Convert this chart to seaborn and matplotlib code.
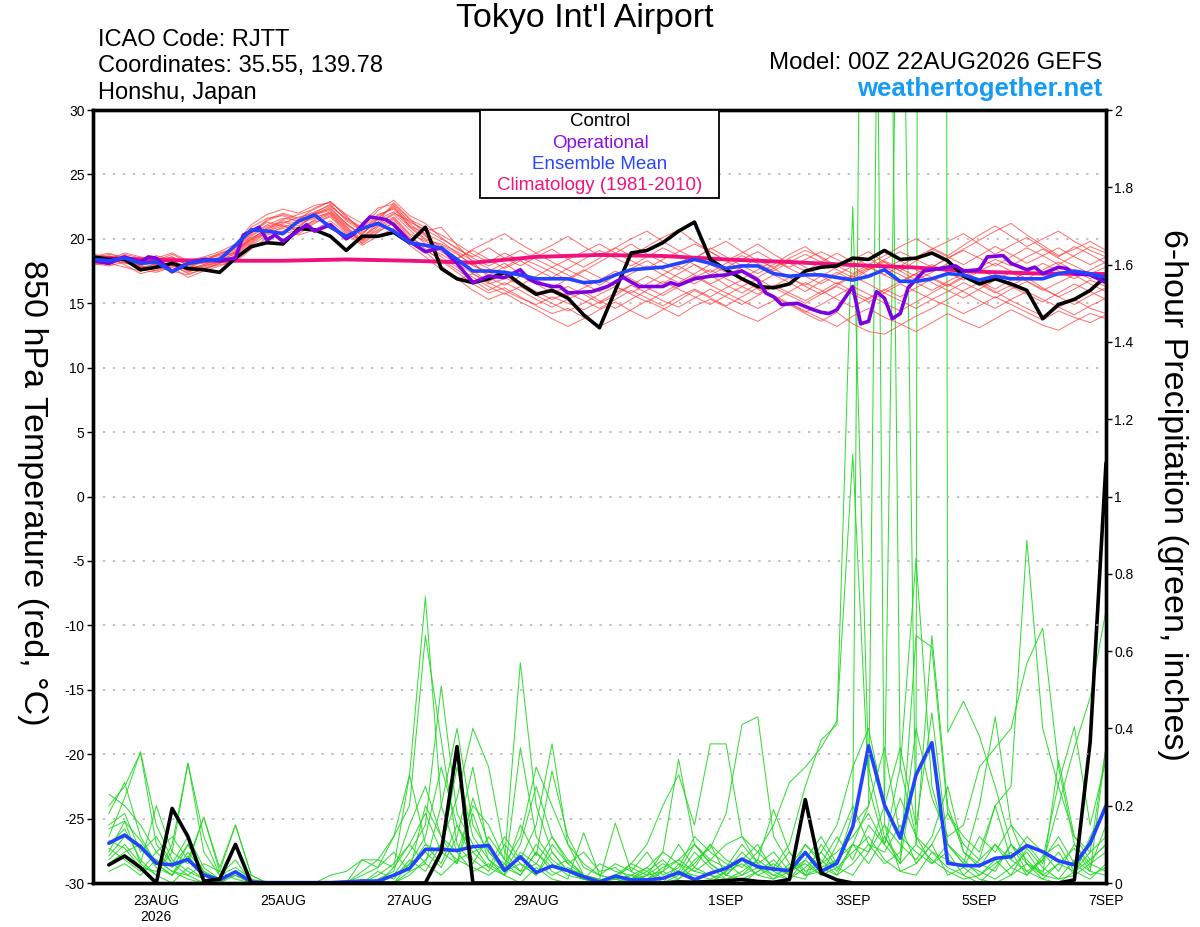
import matplotlib
matplotlib.use("Agg")
import matplotlib.pyplot as plt
from matplotlib.patches import Rectangle
import seaborn as sns
import pandas as pd
import numpy as np

# ---------------- data ----------------
hours6 = list(range(0, 385, 6))          # 22AUG 00Z .. 7SEP 00Z, 6-hourly
precip_hours = list(range(6, 385, 6))    # 6-hour totals, first valid 22AUG 06Z

tick_hours = [24, 72, 120, 168, 240, 288, 336, 384]
tick_labels = ["23AUG\n2026", "25AUG", "27AUG", "29AUG", "1SEP", "3SEP", "5SEP", "7SEP"]

control_temp = [18.6,18.4,18.4,17.6,17.8,18.1,17.7,17.6,17.4,18.5,
                19.4,19.7,19.6,20.8,20.7,20.2,19.1,20.2,20.2,20.5,
                19.7,20.9,17.7,16.9,16.6,16.9,17.4,16.5,15.7,16.0,
                15.4,14.1,13.1,16.0,18.9,19.1,19.7,20.6,21.3,18.4,
                17.6,16.9,16.3,16.2,16.5,17.5,17.8,17.9,18.5,18.4,
                19.1,18.4,18.5,18.9,18.3,17.1,16.5,16.9,16.5,16.0,
                13.8,14.9,15.3,16.0,17.1]

mean_temp = [18.4,18.3,18.5,18.1,18.2,17.45,18.1,18.3,18.4,19.5,
             20.7,20.6,20.4,21.4,21.85,20.9,20.2,20.8,21.2,20.6,
             19.7,19.5,19.3,18.4,17.5,17.5,17.4,17.2,16.9,16.9,
             16.9,16.6,16.7,17.2,17.6,17.7,17.8,18.1,18.4,18.1,
             17.7,17.9,17.9,17.3,17.1,17.2,17.2,17.0,16.8,17.1,
             17.6,16.7,16.7,16.9,17.3,17.2,16.8,17.1,16.9,16.9,
             16.9,17.3,17.5,17.3,17.0]

oper_hours = [0,6,12,18,21,24,30,36,42,48,54,57,63,66,69,72,81,84,90,96,99,105,111,114,
              120,126,132,138,144,150,156,162,165,168,174,177,180,189,195,201,207,216,219,
              222,228,234,240,246,252,255,258,261,267,273,276,279,282,288,291,294,297,300,
              303,306,309,315,321,327,330,336,339,345,348,354,357,360,366,369,372,378,384]
oper_temp = [18.3,18.1,18.6,18.2,18.6,18.5,17.45,18.1,18.4,18.3,18.5,20.3,20.9,19.9,20.3,19.8,
             21.1,20.6,21.1,20.0,20.4,21.7,21.5,21.1,
             19.8,19.0,19.3,18.1,16.6,17.1,17.0,17.6,16.9,16.6,16.3,16.3,15.8,15.9,16.3,17.0,
             16.3,16.3,16.6,16.4,16.9,17.1,17.2,17.5,16.8,15.8,15.5,14.9,15.0,14.5,14.3,14.2,
             14.5,16.3,13.4,13.6,15.9,15.4,13.8,14.2,16.2,17.5,17.7,17.9,17.5,17.6,18.6,18.7,
             18.1,17.6,17.8,17.3,17.8,17.7,17.3,17.2,16.6]

clim_hours = list(range(0, 385, 24))
clim_temp = [18.55,18.36,18.3,18.3,18.4,18.3,18.15,18.6,18.75,18.67,18.4,18.2,17.97,17.77,
             17.45,17.3,17.27]

# ensemble member 850 hPa temperatures (6-hourly)
temp_members = [
 [18.4,18.6,18.3,18.0,18.2,18.6,17.9,18.2,18.5,19.0, 20.2,21.0,21.3,21.0,21.8,22.4,21.2,20.3,21.6,22.5,
  21.0,20.0,19.5,18.8,18.0,17.2,17.8,18.5,18.0,17.4, 16.8,17.5,18.2,18.9,19.6,18.8,18.2,17.6,18.4,19.3,
  18.6,17.9,17.3,18.0,18.8,19.4,18.5,17.8,18.4,19.0, 18.2,17.5,18.3,19.2,19.8,20.4,19.6,18.8,19.5,20.1,
  19.3,18.6,19.4,18.8,18.1],
 [18.2,18.0,18.5,17.6,17.4,17.8,17.0,17.5,17.9,18.3, 19.6,20.5,20.8,20.4,21.2,21.8,20.6,19.8,20.9,21.6,
  20.3,19.2,18.3,17.4,16.5,15.8,16.2,15.5,14.8,14.2, 14.6,13.9,13.2,13.8,14.5,15.2,14.6,14.0,14.8,15.3,
  14.7,14.1,13.6,14.3,15.0,14.4,13.8,13.2,14.0,14.6, 13.9,13.4,12.8,13.5,14.2,13.6,13.1,13.8,14.5,13.9,
  13.3,12.9,13.6,14.2,13.8],
 [18.6,18.9,18.4,18.2,18.7,18.3,17.6,18.0,18.4,18.8, 20.0,20.8,21.5,21.9,22.3,22.9,21.8,20.5,21.2,22.0,
  21.4,20.6,20.9,19.5,18.2,17.0,16.4,17.1,16.5,15.8, 16.3,15.7,15.0,15.6,16.4,17.1,16.5,17.3,18.0,17.2,
  16.4,15.8,16.5,17.2,16.6,15.9,16.7,17.4,16.8,17.6, 18.2,17.5,16.8,17.4,18.1,17.3,16.5,15.8,16.4,17.0,
  16.2,15.5,16.1,16.8,16.3],
 [18.0,18.3,18.6,18.4,17.9,18.1,17.7,18.3,18.9,19.3, 20.5,21.3,21.0,20.6,21.5,22.0,20.9,20.0,21.3,22.8,
  21.6,20.3,19.0,18.4,19.2,19.8,20.4,19.6,18.9,19.5, 20.2,19.4,18.7,19.3,20.0,20.6,19.8,19.1,18.5,19.2,
  19.8,19.0,18.3,17.8,18.5,19.1,18.6,17.9,17.3,18.0, 18.7,19.4,20.0,19.3,18.7,19.5,20.3,21.0,20.2,19.4,
  20.0,20.6,19.8,19.1,18.6],
 [18.3,18.5,18.0,17.3,17.6,18.0,17.3,17.6,18.1,18.6, 19.8,20.7,21.4,21.2,21.6,22.1,21.0,19.6,20.5,21.3,
  20.0,19.0,17.9,16.9,16.0,15.3,15.8,15.1,14.5,13.8, 13.2,13.8,14.5,15.1,14.4,13.8,14.5,15.2,16.0,15.4,
  14.8,15.5,16.2,15.6,15.0,14.3,14.9,15.6,16.3,15.7, 15.0,14.4,15.1,15.8,16.5,15.9,15.2,14.6,15.3,15.9,
  15.3,14.7,14.1,14.8,15.4],
 [18.5,18.2,18.8,18.5,18.3,18.8,18.2,18.4,18.7,19.1, 20.4,21.5,22.0,21.6,22.1,22.6,21.5,20.8,21.9,22.3,
  21.0,20.4,19.8,18.9,17.9,17.5,18.1,17.3,16.8,16.2, 16.9,17.6,17.0,16.3,15.8,16.5,17.2,17.9,17.2,16.5,
  17.1,17.8,18.5,17.7,17.0,16.4,17.1,17.8,18.6,17.9, 17.2,16.6,17.3,18.0,17.4,16.8,17.5,18.1,17.5,16.9,
  17.6,18.2,17.5,16.9,17.4],
 [18.1,17.9,18.2,17.8,18.0,18.4,17.5,17.8,18.2,18.5, 19.5,20.3,20.6,20.9,21.9,22.5,21.6,20.9,22.2,23.0,
  21.8,21.2,20.1,19.2,18.6,19.3,18.5,17.9,18.6,19.2, 18.4,17.8,18.5,19.3,18.7,19.4,20.1,20.7,19.8,19.0,
  18.3,18.9,19.6,18.8,18.1,17.5,18.2,18.9,18.2,17.6, 18.3,17.7,17.1,17.8,18.5,19.2,19.9,20.6,21.2,20.3,
  19.5,18.7,19.2,19.8,19.1],
 [18.4,18.7,18.2,17.7,18.1,18.3,17.8,17.9,18.3,18.9, 20.1,20.6,21.2,21.7,22.0,22.3,21.2,20.2,21.0,21.7,
  20.4,19.8,19.2,18.3,17.5,16.7,17.3,16.6,15.9,15.3, 15.8,15.2,14.6,15.3,16.0,15.4,14.8,15.5,16.1,15.5,
  16.2,16.8,16.1,15.5,14.9,14.2,13.6,14.3,13.4,12.8, 12.6,13.3,14.0,14.6,15.3,16.0,16.6,15.9,15.2,14.6,
  14.0,14.7,15.3,14.6,14.2],
 [18.7,18.4,18.9,18.6,18.4,18.2,17.7,18.5,18.8,19.4, 20.9,21.6,21.8,21.3,21.9,22.2,21.1,20.4,21.5,22.1,
  20.9,19.9,19.6,19.0,18.3,17.7,17.0,16.4,17.1,17.8, 17.2,16.5,15.9,16.6,17.3,17.9,17.2,16.6,17.3,18.0,
  17.4,16.9,17.6,18.3,17.8,18.4,19.0,18.4,17.8,17.1, 17.7,18.3,17.6,17.0,16.4,17.1,17.8,18.4,17.9,18.6,
  19.2,18.5,17.9,17.3,17.8],
 [18.0,18.1,17.8,17.5,17.8,17.5,17.2,17.7,18.0,18.2, 19.2,20.1,20.6,20.3,20.7,21.4,20.4,19.5,20.2,20.8,
  19.5,18.6,17.6,16.8,17.3,16.6,16.0,15.4,14.9,15.5, 15.0,14.5,15.1,15.8,16.4,15.8,15.2,14.7,15.4,16.1,
  15.5,14.9,15.6,16.3,17.0,16.3,15.7,16.4,17.1,16.5, 15.8,15.2,14.6,15.3,14.8,14.2,14.8,15.5,14.9,14.3,
  13.7,14.4,13.9,13.5,14.1],
 [18.8,18.6,18.5,18.1,18.5,18.9,18.3,18.6,19.0,19.6, 21.1,21.9,22.3,22.0,22.6,22.8,21.9,21.2,22.4,22.7,
  21.5,20.9,20.3,19.6,18.8,18.2,18.9,18.3,17.6,17.0, 17.7,18.4,19.1,18.5,17.9,18.6,19.3,18.7,18.0,17.4,
  18.1,18.7,18.1,17.5,18.2,18.8,18.2,17.6,17.0,17.7, 18.4,19.0,18.4,17.8,18.5,19.1,18.5,17.9,18.6,19.3,
  18.7,18.0,18.7,19.4,18.9],
 [18.3,18.0,18.4,17.9,17.5,17.9,17.4,17.9,18.2,18.7, 19.9,20.9,21.1,20.8,21.4,21.9,20.7,19.9,20.7,21.5,
  20.1,19.4,18.8,18.1,17.3,16.5,16.9,17.5,16.8,16.1, 15.6,16.2,16.8,17.5,16.9,16.2,15.6,16.3,17.0,17.6,
  16.9,16.3,15.7,16.4,15.8,15.2,15.9,16.6,15.9,15.3, 16.0,16.7,17.3,16.6,16.0,15.4,16.1,16.8,17.4,16.7,
  16.0,16.6,17.2,16.5,15.9],
 [18.5,18.8,18.6,18.3,18.0,18.5,18.0,18.1,18.6,18.9, 20.3,21.1,21.6,21.4,22.0,22.7,21.4,20.6,21.8,22.4,
  21.2,20.2,19.3,18.5,19.1,18.4,17.7,18.3,18.9,18.2, 17.6,17.0,16.4,17.1,17.7,18.3,17.6,17.0,16.5,17.2,
  17.8,18.4,19.0,18.3,17.7,17.1,16.5,17.2,17.9,18.5, 17.8,17.2,16.6,16.0,16.7,17.3,16.7,16.1,16.8,17.4,
  18.1,17.5,16.9,17.6,18.2],
 [18.2,18.4,18.1,17.9,18.3,17.9,17.6,18.0,18.5,19.0, 20.0,20.4,20.9,21.3,21.7,22.0,20.8,19.9,21.1,21.9,
  20.7,19.6,18.6,17.8,17.0,16.3,15.7,16.3,15.6,15.0, 14.4,15.0,15.7,16.3,15.7,15.1,15.8,16.5,17.1,16.4,
  15.8,15.2,14.6,15.2,15.9,16.6,16.0,15.3,14.7,15.4, 16.1,15.5,16.2,16.9,16.3,17.0,17.6,17.0,16.3,15.7,
  15.1,15.8,16.5,15.9,15.3],
 [18.6,18.3,18.7,18.0,18.4,18.6,18.0,18.3,18.8,19.2, 20.6,21.4,21.9,21.5,22.4,22.9,21.7,20.7,21.6,22.6,
  21.3,20.7,20.0,19.3,18.5,17.9,18.5,19.1,18.4,17.8, 18.4,19.0,19.6,18.9,18.3,17.7,18.4,19.0,19.6,19.0,
  18.3,17.6,17.0,17.7,18.4,17.8,17.1,16.5,17.2,17.8, 17.2,17.9,18.6,19.2,18.6,18.0,18.7,19.4,18.8,18.1,
  18.7,19.3,18.6,18.0,18.6],
 [18.1,18.3,18.4,17.8,17.7,18.2,17.5,17.7,18.1,18.4, 19.7,20.6,21.0,20.6,21.3,21.7,20.5,19.7,20.6,21.2,
  19.9,19.1,18.4,17.6,16.8,16.0,16.6,16.0,15.3,14.7, 15.3,15.9,15.2,14.6,15.3,16.0,16.7,16.1,15.5,14.9,
  15.6,16.3,16.9,16.2,15.6,15.0,15.7,16.3,15.7,15.1, 15.8,16.5,15.9,15.3,15.9,16.6,16.0,15.4,16.1,16.7,
  16.1,15.5,14.9,15.6,16.2],
]

# 6-hour precipitation, inches (valid 22AUG 06Z .. 7SEP 00Z)
control_precip = [.047,.07,.04,0,.193,.12,.005,.01, .10,0,0,0,0,0,0,0,
                  0,0,0,0,0,.08,.353,0, 0,0,0,0,0,0,0,0,
                  0,0,0,0,.003,.002,.004,.006, .009,.004,.002,.009,.216,.026,.008,0,
                  0,0,0,0,0,0,0,0, 0,0,0,0,0,.008,.365,1.087]

mean_precip = [.103,.124,.094,.051,.047,.061,.021,.008, .029,.003,.001,.001,.001,.001,.001,.003,
               .005,.005,.02,.038,.087,.087,.084,.094, .097,.032,.068,.027,.044,.032,.016,.003,
               .018,.008,.008,.012,.027,.009,.025,.038, .062,.042,.036,.032,.079,.030,.051,.146,
               .355,.202,.116,.280,.363,.051,.045,.045, .064,.068,.097,.081,.057,.047,.103,.200]

precip_members = [
 [.18,.26,.12,.05,.02,.10,.03,0, .02,0,0,0,0,0,0,0, 0,0,.04,.28,.74,.20,.08,.03, .05,.02,0,.04,.01,0,0,0,
  0,.02,0,0,.05,.01,0,.03, .08,.04,.02,.01,.06,.12,.05,.18, 5.0,.15,.03,.05,.10,.02,.04,.01, 0,.02,.05,.01,0,.03,.08,.12],
 [.12,.22,.34,.15,.06,.03,.01,0, 0,0,0,0,0,0,0,0, .06,.06,.12,.20,.64,.37,.10,.05, .12,.06,.57,.20,.08,.03,.01,0,
  .01,0,0,.03,.10,.04,.02,0, 0,.03,.06,.02,.01,.08,.03,.10, .20,4.0,.30,.12,.05,.08,.02,0, .04,.10,.05,.02,.01,.06,.03,.35],
 [.08,.16,.05,.20,.08,.31,.12,.02, .06,0,0,0,0,0,0,0, 0,0,.02,.08,.15,.51,.18,.10, .04,.12,.06,.15,.36,.10,.02,0,
  .02,.05,.03,0,.01,.06,.09,.18, .41,.43,.12,.05,.02,.10,.04,.02, .08,.20,3.0,.10,.06,.03,.01,.02, .06,.02,.09,.04,.01,.02,.05,.08],
 [.23,.20,.15,.08,.12,.06,.17,.04, .15,.02,0,0,0,0,0,0, 0,0,0,.02,.06,.10,.22,.40, .30,.08,.03,.05,.12,.06,.02,.01,
  .155,.03,.01,0,.02,.08,.04,.01, .03,.06,.19,.08,.03,.05,.12,.06, .15,.10,.30,.84,.25,.10,.05,.03, .01,.04,.02,.07,.10,.03,.01,.05],
 [.05,.08,.10,.04,.02,.08,.03,.01, .03,0,0,0,0,0,0,0, .02,.04,.08,.03,.20,.12,.05,.22, .10,.04,.02,.08,.03,.01,.13,.02,
  .01,.05,.10,.20,.28,.15,.36,.36, .12,.05,.02,.04,.10,.06,.02,.10, .05,.12,.06,.30,25.0,.39,.47,.38, .25,.10,.03,.06,.12,.05,.02,.04],
 [.10,.14,.06,.02,0,.04,.01,0, 0,0,0,0,0,0,0,0, 0,.02,.05,.10,.18,.08,.30,.12, .06,.03,.10,.25,.12,.05,.02,0,
  .02,.01,.04,.08,.32,.10,.05,.02, .06,.02,.04,.10,.25,.37,.41,1.75, .30,.12,.05,.10,.64,.20,.08,.04, .10,.06,.03,.01,.05,.09,.03,.02],
 [.15,.18,.08,.12,.05,.02,0,0, 0,0,0,0,0,0,0,0, 0,0,0,.05,.12,.30,.15,.06, .03,.10,.05,.02,.08,.03,.01,0,
  0,.01,.03,.06,.02,.05,.10,.06, .04,.08,.15,.26,.30,.35,.42,1.11, .25,.10,.05,.64,.61,.18,.10,.06, .20,.25,.887,.40,.25,.12,.06,.10],
 [.20,.25,.337,.10,.05,.12,.04,.01, .02,0,0,0,0,0,0,0, .03,.06,.04,.10,.05,.20,.40,.15, .08,.05,.12,.30,.20,.10,.05,.02,
  .01,0,.02,.05,.03,.10,.06,.04, .10,.05,.08,.03,.06,.02,.10,.20, .10,.05,.08,.40,.22,.12,.15,.30, .35,.40,.568,.659,.30,.10,.05,.03],
 [.06,.10,.05,.02,.10,.31,.08,.02, .04,.01,0,0,0,0,0,0, 0,.01,.03,.15,.25,.12,.08,.20, .15,.06,.03,.10,.05,.02,.01,.05,
  .03,.02,.01,.04,.06,.03,.02,.01, .02,.06,.03,.01,.04,.08,.15,.30, .40,.20,.35,.15,.44,.10,.05,.20, .43,.15,.10,.05,.20,.35,.48,.706],
 [.03,.05,.02,.06,.03,.01,0,0, 0,0,0,0,0,0,.02,.03, .06,.04,.12,.28,.10,.05,.15,.08, .04,.02,.35,.12,.06,.03,.01,0,
  0,0,.01,.03,.06,.10,.05,.02, .01,.03,.05,.02,.08,.04,.06,.10, .08,.15,.10,.06,.12,.25,.08,.05, .03,.10,.06,.02,.318,.12,.08,.353],
 [.11,.09,.04,.03,.08,.05,.17,.03, .01,0,0,0,0,0,0,0, 0,0,.02,.05,.08,.04,.12,.30, .08,.03,.15,.07,.29,.12,.04,.02,
  .05,.03,.08,.02,.04,.12,.08,.05, .02,.04,.01,.05,.02,.03,.06,.15, .20,.35,.12,.08,.05,.10,.06,.02, .05,.08,.02,.06,.258,.404,.15,.318],
 [.07,.12,.09,.06,.03,.02,.05,.03, .15,.02,0,0,0,0,0,0, 0,0,0,.03,.05,.02,.06,.04, .02,.05,.02,.08,.04,.06,.02,.01,
  .01,.02,.04,.01,.03,.02,.01,.03, .05,.02,.01,.03,.05,.02,.04,.08, .12,.06,.03,.02,.08,.04,.02,.06, .10,.04,.08,.02,.05,.03,.06,.10],
 [.14,.16,.11,.05,.02,.07,.02,0, 0,0,0,0,0,0,0,0, .01,0,.02,.04,.10,.08,.05,.18, .06,.02,.08,.05,.02,.04,.02,0,
  .02,.04,.02,.08,.05,.03,.06,.10, .12,.08,.04,.02,.10,.05,.08,.12, .18,.10,.22,.12,.08,.06,.04,.12, .08,.15,.05,.03,.08,.02,.12,.20],
 [.09,.06,.03,.08,.04,.10,.02,0, .03,0,0,0,0,0,0,0, 0,.03,.01,.06,.03,.10,.06,.08, .10,.03,.05,.02,.10,.05,.08,.03,
  .04,.01,.02,.03,.01,.04,.10,.02, .06,.10,.03,.08,.02,.04,.02,.05, .10,.08,.15,.05,.10,.18,.12,.08, .20,.06,.12,.08,.03,.10,.04,.15],
]

# ---------------- long-form tables ----------------
df_tm = pd.DataFrame([(m, h, v) for m, vals in enumerate(temp_members) for h, v in zip(hours6, vals)],
                     columns=["member", "hour", "temp"])
df_pm = pd.DataFrame([(m, h, v) for m, vals in enumerate(precip_members) for h, v in zip(precip_hours, vals)],
                     columns=["member", "hour", "precip"])

# ---------------- style ----------------
sns.set_theme(style="white")
plt.rcParams["font.family"] = ["Liberation Sans", "DejaVu Sans"]
plt.rcParams["text.color"] = "black"
plt.rcParams["axes.labelcolor"] = "black"
plt.rcParams["xtick.color"] = "black"
plt.rcParams["ytick.color"] = "black"

fig = plt.figure(figsize=(12, 9.27), dpi=100)
ax = fig.add_axes([0.0775, 0.04746, 0.84417, 0.83387])
ax2 = ax.twinx()
ax.set_zorder(ax2.get_zorder() + 1)
ax.patch.set_visible(False)

# precipitation (right axis)
sns.lineplot(data=df_pm, x="hour", y="precip", units="member", estimator=None, sort=False,
             color="#22d822", lw=0.75, alpha=0.9, ax=ax2, legend=False)
sns.lineplot(x=precip_hours, y=mean_precip, estimator=None, sort=False,
             color="#2244ff", lw=2.6, ax=ax2)
sns.lineplot(x=precip_hours, y=control_precip, estimator=None, sort=False,
             color="black", lw=2.6, ax=ax2)

# temperature (left axis)
sns.lineplot(data=df_tm, x="hour", y="temp", units="member", estimator=None, sort=False,
             color="#ff3535", lw=0.7, alpha=0.72, ax=ax, legend=False)
sns.lineplot(x=clim_hours, y=clim_temp, estimator=None, sort=False,
             color="#f0117f", lw=2.8, ax=ax)
sns.lineplot(x=hours6, y=control_temp, estimator=None, sort=False,
             color="black", lw=2.6, ax=ax)
sns.lineplot(x=oper_hours, y=oper_temp, estimator=None, sort=False,
             color="#7d00e0", lw=2.6, ax=ax)
sns.lineplot(x=hours6, y=mean_temp, estimator=None, sort=False,
             color="#2244ff", lw=2.6, ax=ax)

# ---------------- axes ----------------
ax.set_xlim(0, 384)
ax.set_ylim(-30, 30)
ax2.set_ylim(0, 2)
ax.set_yticks(list(range(-30, 31, 5)))
ax.set_yticklabels([str(v) for v in range(-30, 31, 5)])
rt = [round(0.2 * k, 1) for k in range(11)]
ax2.set_yticks(rt)
ax2.set_yticklabels(["0" if v == 0 else ("%g" % v) for v in rt])
ax.set_xticks(tick_hours)
ax.set_xticklabels(tick_labels)
ax.set_xlabel("")
ax2.set_xlabel("")
ax.set_ylabel("")
ax2.set_ylabel("")

for a in (ax, ax2):
    for s in a.spines.values():
        s.set_linewidth(2.4)
        s.set_color("black")
ax.tick_params(axis="both", which="both", direction="out", length=4, width=1,
               colors="black", labelsize=10, pad=2)
ax.tick_params(axis="x", length=5, pad=3)
ax2.tick_params(axis="y", direction="out", length=4, width=1, colors="black", labelsize=10, pad=2)

for yv in range(-25, 30, 5):
    ax.axhline(yv, color="#b0b0b0", lw=1.1, ls=(0, (1.5, 5)), zorder=0)

fig.text(0.027, 0.468, "850 hPa Temperature (red, \u00b0C)", rotation=270, fontsize=24.5,
         ha="center", va="center", color="black")
fig.text(0.977, 0.466, "6-hour Precipitation (green, inches)", rotation=270, fontsize=24.5,
         ha="center", va="center", color="black")

# legend box
ax.add_patch(Rectangle((0.382, 0.886), 0.236, 0.114, transform=ax.transAxes,
                       facecolor="white", edgecolor="black", lw=1.3, zorder=20, clip_on=False))
leg_items = [("Control", "black"), ("Operational", "#8a10e0"),
             ("Ensemble Mean", "#2a46ff"), ("Climatology (1981-2010)", "#f0147f")]
for k, (txt, col) in enumerate(leg_items):
    ax.text(0.5005, 0.9845 - k * 0.0276, txt, color=col, fontsize=13.5, ha="center",
            va="center", transform=ax.transAxes, zorder=21)

# header texts
fig.text(0.4875, 0.9805, "Tokyo Int'l Airport", fontsize=24.5, ha="center", va="center", color="black")
fig.text(0.0817, 0.9569, "ICAO Code: RJTT", fontsize=17, ha="left", va="center", color="black")
fig.text(0.0817, 0.9288, "Coordinates: 35.55, 139.78", fontsize=17, ha="left", va="center", color="black")
fig.text(0.0817, 0.8997, "Honshu, Japan", fontsize=17, ha="left", va="center", color="black")
fig.text(0.9183, 0.932, "Model: 00Z 22AUG2026 GEFS", fontsize=17.4, ha="right", va="center", color="black")
fig.text(0.9183, 0.904, "weathertogether.net", fontsize=18.5, fontweight="bold",
         color="#149cf5", ha="right", va="center")

fig.savefig("out.png", dpi=100)
